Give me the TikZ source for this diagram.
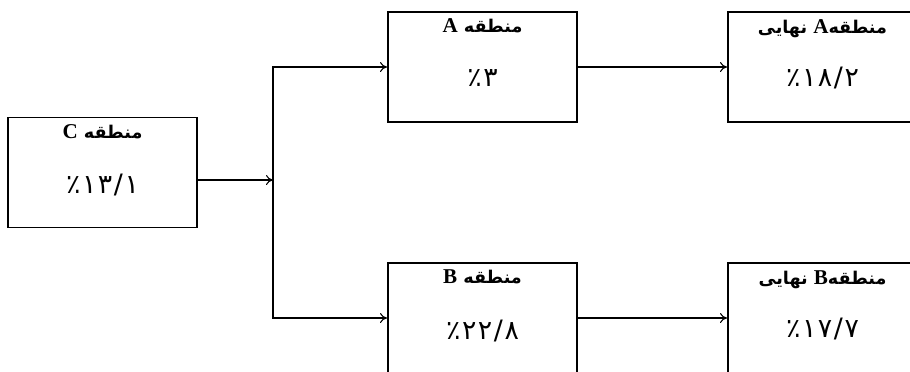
\documentclass[tikz,border=0pt]{standalone}
\usepackage{fontspec}
\usetikzlibrary{arrows.meta}
\setmainfont{Liberation Serif}
\newfontfamily\farsifont[Script=Arabic]{DejaVu Sans}
\TeXXeTstate=1
\newcommand\zoneletter[1]{{\rmfamily\bfseries\fontsize{15}{17}\selectfont #1}}

\begin{document}
\begin{tikzpicture}[x=0.025cm, y=-0.025cm,
   zone/.style={draw=black, line width=1.3pt, minimum width=4.725cm, minimum height=2.75cm, inner sep=0pt},
   zonehead/.style={font=\farsifont\bfseries\fontsize{12.5}{14}\selectfont, inner sep=0pt},
   zoneval/.style={font=\farsifont\fontsize{19}{22}\selectfont\addfontfeatures{LetterSpace=6}, inner sep=0pt},
   link/.style={line width=0.75pt, -{To[length=5pt,width=7pt]}}]

   \clip (0,0) rectangle (910,371);
   \fill[white] (0,0) rectangle (910,371);

   % boxes
   \node[zone] (C) at (102.5,172.5) {};
   \node[zone] (A) at (482.5,67) {};
   \node[zone] (B) at (482.5,318) {};
   \node[zone] (Af) at (822.5,67) {};
   \node[zone] (Bf) at (822.5,318) {};

   % texts
   \node[zonehead] (Ch) at ([yshift=-0.375cm]C.north) {\beginR منطقه \zoneletter{C}\endR};
   \node[zoneval] (Cv) at ([yshift=-1.72cm]C.north) {٪۱۳/۱};

   \node[zonehead] (Ah) at ([yshift=-0.375cm]A.north) {\beginR منطقه \zoneletter{A}\endR};
   \node[zoneval] (Av) at ([yshift=-1.68cm]A.north) {٪۳};

   \node[zonehead] (Bh) at ([yshift=-0.375cm]B.north) {\beginR منطقه \zoneletter{B}\endR};
   \node[zoneval] (Bv) at ([yshift=-1.72cm]B.north) {٪۲۲/۸};

   \node[zonehead] (Afh) at ([yshift=-0.45cm]Af.north) {\beginR منطقه\zoneletter{A} نهایی\endR};
   \node[zoneval] (Afv) at ([yshift=-1.68cm]Af.north) {٪۱۸/۲};

   \node[zonehead] (Bfh) at ([yshift=-0.45cm]Bf.north) {\beginR منطقه\zoneletter{B} نهایی\endR};
   \node[zoneval] (Bfv) at ([yshift=-1.68cm]Bf.north) {٪۱۷/۷};

   % connectors
   \coordinate (J) at (273,180);
   \draw[link] (C.east |- J) -- (J);
   \draw[link] (J) |- (A);
   \draw[link] (J) |- (B);
   \draw[link] (A) -- (Af);
   \draw[link] (B) -- (Bf);

\end{tikzpicture}
\end{document}
